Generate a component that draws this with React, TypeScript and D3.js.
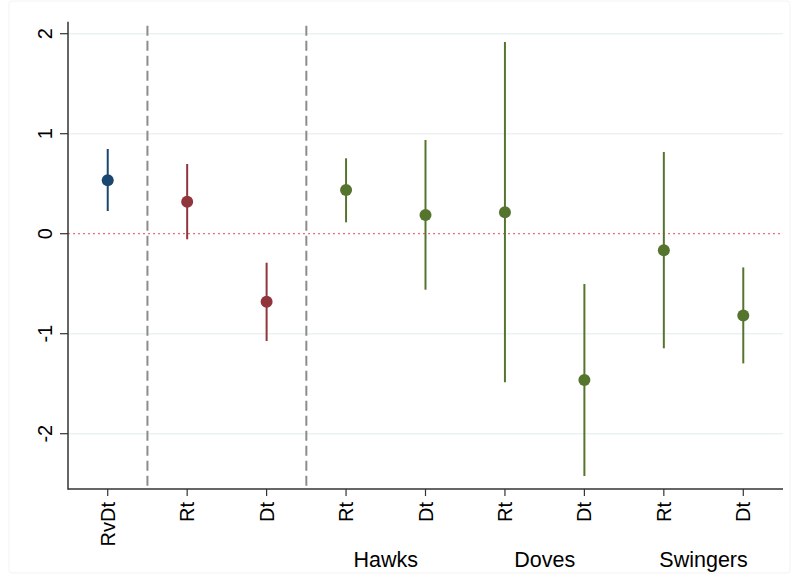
import React from "react";
import * as d3 from "d3";

const tickLabels = ["RvDt", "Rt", "Dt", "Rt", "Dt", "Rt", "Dt", "Rt", "Dt"];
const estimates = [0.535, 0.32, -0.68, 0.437, 0.187, 0.214, -1.463, -0.166, -0.817];
const lower = [0.227, -0.056, -1.073, 0.114, -0.56, -1.486, -2.423, -1.146, -1.297];
const upper = [0.847, 0.697, -0.29, 0.754, 0.937, 1.917, -0.503, 0.817, -0.337];
const seriesKind = ["navy", "maroon", "maroon", "green", "green", "green", "green", "green", "green"];
const yTicks = [-2, -1, 0, 1, 2];
const separators = [1.5, 3.5];
const groupLabels = ["Hawks", "Doves", "Swingers"];
const groupCenters = [4.5, 6.5, 8.5];

const colors: Record<string, string> = {
  navy: "#1a476f",
  maroon: "#90353b",
  green: "#55752f",
};

const W = 792;
const H = 575;
const FONT = "'Liberation Sans', Arial, sans-serif";

export default function App() {
  const x = d3.scaleLinear().domain([0.5, 9.5]).range([68, 783]);
  const y = d3.scaleLinear().domain([-2.553, 2.12]).range([489, 21.7]);
  const plotTop = y(2.12);
  const plotBottom = y(-2.553);
  const left = x(0.5);
  const right = x(9.5);
  const xs = tickLabels.map((_, i) => i + 1);

  return (
    <svg
      width={W}
      height={H}
      style={{ position: "fixed", left: 0, top: 0, background: "#fff" }}
    >
      <rect x={9} y={1} width={781} height={572} rx={3} fill="#fff" stroke="#f3f3f3" strokeWidth={1} />
      {/* grid lines */}
      {yTicks.filter((t) => t !== 0).map((t) => (
        <line key={"g" + t} x1={left} x2={right} y1={y(t)} y2={y(t)} stroke="#eaf2f3" strokeWidth={1.5} />
      ))}
      {/* zero reference line */}
      <line x1={left} x2={right} y1={y(0)} y2={y(0)} stroke="#ee6f73" strokeWidth={1.2} strokeDasharray="2 3" />
      {/* separators */}
      {separators.map((s) => (
        <line key={"s" + s} x1={x(s)} x2={x(s)} y1={plotTop + 4} y2={plotBottom} stroke="#8c8c8c" strokeWidth={2} strokeDasharray="10 5" />
      ))}
      {/* CIs and points */}
      {xs.map((p, i) => (
        <g key={"pt" + i}>
          <line x1={x(p)} x2={x(p)} y1={y(lower[i])} y2={y(upper[i])} stroke={colors[seriesKind[i]]} strokeWidth={2} />
          <circle cx={x(p)} cy={y(estimates[i])} r={6} fill={colors[seriesKind[i]]} />
        </g>
      ))}
      {/* axes */}
      <line x1={left} x2={left} y1={plotTop} y2={plotBottom + 0.75} stroke="#333" strokeWidth={1.5} />
      <line x1={left} x2={right} y1={plotBottom} y2={plotBottom} stroke="#333" strokeWidth={1.5} />
      {yTicks.map((t) => (
        <g key={"yt" + t}>
          <line x1={left - 8} x2={left} y1={y(t)} y2={y(t)} stroke="#333" strokeWidth={1.2} />
          <text
            transform={`translate(52,${y(t)}) rotate(-90)`}
            textAnchor="middle"
            fontFamily={FONT}
            fontSize={20}
            fill="#000"
          >
            {t}
          </text>
        </g>
      ))}
      {xs.map((p, i) => (
        <g key={"xt" + i}>
          <line x1={x(p)} x2={x(p)} y1={plotBottom} y2={plotBottom + 7} stroke="#333" strokeWidth={1.2} />
          <text
            transform={`translate(${x(p) + 7},${plotBottom + 13}) rotate(-90)`}
            textAnchor="end"
            fontFamily={FONT}
            fontSize={20}
            fill="#000"
          >
            {tickLabels[i]}
          </text>
        </g>
      ))}
      {groupLabels.map((g, i) => (
        <text key={g} x={x(groupCenters[i])} y={567} textAnchor="middle" fontFamily={FONT} fontSize={21.5} fill="#000">
          {g}
        </text>
      ))}
    </svg>
  );
}
